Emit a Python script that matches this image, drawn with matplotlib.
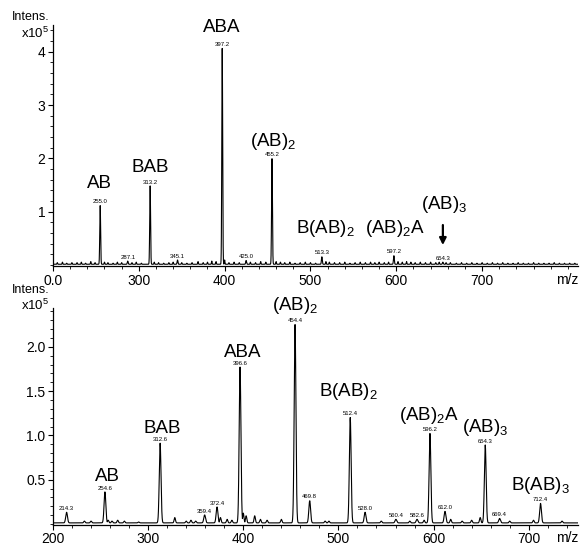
import numpy as np
import matplotlib
matplotlib.use("Agg")
import matplotlib.pyplot as plt
from matplotlib.ticker import MultipleLocator, FixedLocator

plt.rcParams["font.family"] = ["Liberation Sans", "DejaVu Sans"]
plt.rcParams["mathtext.default"] = "regular"

# ---- top spectrum (intensity x10^5) ----
top_main_mz = [255.0, 313.2, 397.2, 455.2, 513.3, 597.2, 654.3, 287.1, 345.1, 425.0]
top_main_int = [1.10, 1.47, 4.05, 1.98, 0.14, 0.16, 0.04, 0.06, 0.08, 0.07]
top_main_lbl = ["255.0", "313.2", "397.2", "455.2", "513.3", "597.2", "654.3",
                "287.1", "345.1", "425.0"]
top_noise_mz = [205, 211, 216, 222, 228, 233, 238, 244, 249, 260, 264, 270, 275,
                280, 292, 297, 303, 318, 323, 329, 335, 340, 350, 356, 362, 369,
                375, 380, 385, 390, 400, 405, 411, 417, 430, 436, 442, 448, 460,
                465, 470, 476, 482, 488, 494, 500, 506, 518, 522, 528, 534, 540,
                546, 552, 558, 564, 570, 575, 580, 586, 591, 602, 607, 612, 617,
                622, 628, 634, 640, 646, 650, 658, 663, 670, 676, 682, 688, 694,
                700, 706, 712, 718, 724, 730, 736, 742, 748, 754, 760, 766, 772,
                778, 784, 790, 796, 802, 808]
top_noise_int = [0.03, 0.04, 0.02, 0.03, 0.03, 0.04, 0.02, 0.05, 0.03, 0.04, 0.03,
                 0.02, 0.04, 0.03, 0.03, 0.04, 0.02, 0.04, 0.03, 0.02, 0.03, 0.04,
                 0.03, 0.02, 0.03, 0.05, 0.03, 0.04, 0.06, 0.05, 0.08, 0.03, 0.04,
                 0.03, 0.04, 0.03, 0.05, 0.04, 0.05, 0.04, 0.03, 0.04, 0.02, 0.03,
                 0.04, 0.03, 0.02, 0.05, 0.04, 0.03, 0.03, 0.04, 0.02, 0.03, 0.04,
                 0.03, 0.04, 0.03, 0.04, 0.03, 0.04, 0.05, 0.04, 0.05, 0.04, 0.03,
                 0.04, 0.03, 0.04, 0.03, 0.04, 0.03, 0.03, 0.02, 0.03, 0.02, 0.03,
                 0.02, 0.03, 0.02, 0.03, 0.02, 0.03, 0.02, 0.02, 0.03, 0.02, 0.02,
                 0.03, 0.02, 0.02, 0.02, 0.03, 0.02, 0.02, 0.02, 0.02]
top_names = ["AB", "BAB", "ABA", "(AB)$_2$", "B(AB)$_2$", "(AB)$_2$A", "(AB)$_3$"]
top_name_mz = [254, 313, 397, 456, 517, 598, 656]
top_name_y = [1.44, 1.75, 4.37, 2.24, 0.60, 0.60, 1.05]

# ---- bottom spectrum (intensity x10^5) ----
bot_main_mz = [214.3, 254.6, 312.6, 359.4, 372.4, 396.6, 454.4, 469.8, 512.4,
               528.0, 560.4, 582.6, 596.2, 612.0, 654.3, 669.4, 712.4]
bot_main_int = [0.12, 0.35, 0.90, 0.09, 0.18, 1.76, 2.24, 0.25, 1.19,
                0.12, 0.04, 0.04, 1.01, 0.13, 0.88, 0.05, 0.22]
bot_main_lbl = ["214.3", "254.6", "312.6", "359.4", "372.4", "396.6", "454.4",
                "469.8", "512.4", "528.0", "560.4", "582.6", "596.2", "612.0",
                "654.3", "669.4", "712.4"]
bot_noise_mz = [233, 240, 258, 262, 268, 275, 290, 328, 340, 345, 350, 376, 383,
                388, 400, 403, 412, 418, 425, 440, 486, 490, 545, 575, 590, 618,
                630, 640, 649, 680, 705, 735]
bot_noise_int = [0.02, 0.02, 0.03, 0.02, 0.03, 0.02, 0.01, 0.06, 0.02, 0.03, 0.02,
                 0.06, 0.04, 0.03, 0.11, 0.08, 0.08, 0.04, 0.03, 0.04, 0.02, 0.02,
                 0.02, 0.02, 0.03, 0.04, 0.02, 0.03, 0.06, 0.02, 0.03, 0.02]
bot_names = ["AB", "BAB", "ABA", "(AB)$_2$", "B(AB)$_2$", "(AB)$_2$A", "(AB)$_3$", "B(AB)$_3$"]
bot_name_mz = [257, 315, 399, 454, 510, 595, 654, 712]
bot_name_y = [0.48, 1.03, 1.89, 2.42, 1.44, 1.17, 1.04, 0.38]


def spectrum(xlim, mz, inten, width, noise_mz, noise_int, nwidth, base):
    x = np.arange(xlim[0], xlim[1], 0.1)
    y = np.full_like(x, base)
    for c, h in zip(mz, inten):
        y = np.maximum(y, base + h * np.exp(-((x - c) / width) ** 2))
    for c, h in zip(noise_mz, noise_int):
        y = np.maximum(y, base + h * np.exp(-((x - c) / nwidth) ** 2))
    return x, y


fig = plt.figure(figsize=(5.81, 5.45), dpi=100)
ax1 = fig.add_axes([0.0912, 0.512, 0.904, 0.442])
ax2 = fig.add_axes([0.0912, 0.037, 0.904, 0.398])

panels = [
    (ax1, (200, 812), (-0.02, 4.5), top_main_mz, top_main_int, top_main_lbl,
     top_noise_mz, top_noise_int, top_names, top_name_mz, top_name_y, 0.7, 0.5, 1, 0.2),
    (ax2, (200, 752), (-0.01, 2.44), bot_main_mz, bot_main_int, bot_main_lbl,
     bot_noise_mz, bot_noise_int, bot_names, bot_name_mz, bot_name_y, 1.3, 1.0, 0.5, 0.1),
]

for (ax, xl, yl, mz, inten, lbl, nmz, nint, names, nmx, nmy, w, nw, ymaj, ymin) in panels:
    x, y = spectrum(xl, mz, inten, w, nmz, nint, nw, 0.012)
    ax.plot(x, y, color="black", lw=0.8)
    ax.set_xlim(*xl)
    ax.set_ylim(*yl)
    for c, h, t in zip(mz, inten, lbl):
        ax.annotate(t, (c, h + 0.012), xytext=(0, 1), textcoords="offset points",
                    ha="center", va="bottom", fontsize=4.3)
    for t, cx, cy in zip(names, nmx, nmy):
        ax.text(cx, cy, t, ha="center", va="baseline", fontsize=13.5, clip_on=False)
    for s in ["top", "right"]:
        ax.spines[s].set_visible(False)
    ax.spines["left"].set_linewidth(0.9)
    ax.spines["bottom"].set_linewidth(0.9)
    ax.xaxis.set_major_locator(FixedLocator(list(range(200, 800, 100))))
    ax.xaxis.set_minor_locator(MultipleLocator(20))
    ax.yaxis.set_major_locator(MultipleLocator(ymaj))
    ax.yaxis.set_minor_locator(MultipleLocator(ymin))
    ax.tick_params(axis="both", which="major", length=3.5, width=0.8, labelsize=10, pad=2)
    ax.tick_params(axis="both", which="minor", length=2, width=0.6)
    ax.text(1.0, -0.03, "m/z", transform=ax.transAxes, ha="right", va="top", fontsize=10)

ax1.set_xticklabels(["0.0", "300", "400", "500", "600", "700"])
ax1.set_yticks([1, 2, 3, 4])
ax2.set_xticklabels(["200", "300", "400", "500", "600", "700"])
ax2.set_yticks([0.5, 1.0, 1.5, 2.0])
ax2.set_yticklabels(["0.5", "1.0", "1.5", "2.0"])

# arrow pointing at the (AB)3 peak in the top spectrum
ax1.annotate("", xy=(654.3, 0.32), xytext=(654.3, 0.80),
             arrowprops=dict(arrowstyle="-|>", color="black", lw=1.6, mutation_scale=10))

for yy in (0.968, 0.468):
    fig.text(0.085, yy, "Intens.", ha="right", va="center", fontsize=9)
    fig.text(0.085, yy - 0.029, "x10$^5$", ha="right", va="center", fontsize=9.5)

fig.savefig("out.png", dpi=100)
